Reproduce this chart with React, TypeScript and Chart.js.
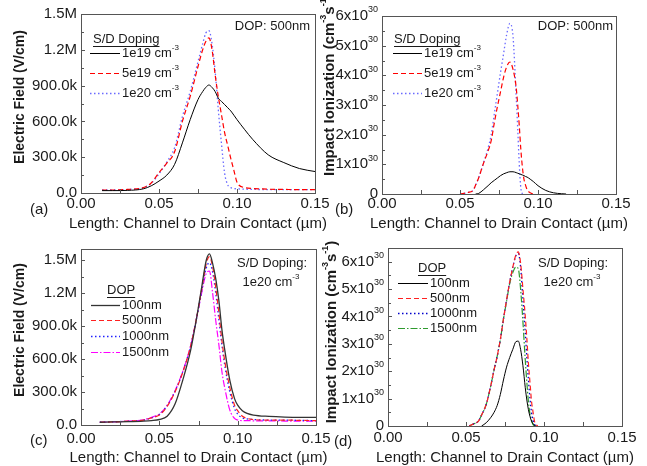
import { useEffect, useRef } from "react";
import { Chart, registerables } from "chart.js";
Chart.register(...registerables);

const FONT = '"Liberation Sans", Arial, sans-serif';
const W = 647;
const H = 466;

// ---------- shared axis ticks ----------
const X_TICKS = [0, 0.05, 0.1, 0.15];
const X_TICK_LABELS = ["0.00", "0.05", "0.10", "0.15"];
const X_MINOR = [0.025, 0.075, 0.125];
const FIELD_TICKS = [0, 300000, 600000, 900000, 1200000, 1500000];
const FIELD_TICK_LABELS = ["0.0", "300.0k", "600.0k", "900.0k", "1.2M", "1.5M"];
const II_TICKS = [0, 1, 2, 3, 4, 5, 6]; // units of 1e30 cm^-3 s^-1
const X_TITLE = "Length: Channel to Drain Contact (\u00b5m)";

// ---------- panel (a): electric field vs S/D doping (DOP 500nm) ----------
const aX = [0.0135, 0.02, 0.03, 0.04, 0.045, 0.05, 0.055, 0.06, 0.065, 0.07, 0.075, 0.078, 0.08, 0.082, 0.084, 0.086, 0.088, 0.09, 0.092, 0.094, 0.096, 0.098, 0.1, 0.105, 0.11, 0.12, 0.13, 0.14, 0.15];
const a1e19 = [20000, 20000, 22000, 35000, 60000, 100000, 150000, 240000, 420000, 615000, 783000, 850000, 885000, 905000, 885000, 850000, 795000, 768000, 742000, 715000, 688000, 652000, 615000, 530000, 450000, 320000, 255000, 205000, 180000];
const a5e19 = [25000, 25000, 30000, 45000, 84000, 170000, 250000, 345000, 600000, 810000, 1060000, 1200000, 1270000, 1300000, 1200000, 990000, 810000, 660000, 510000, 400000, 290000, 190000, 90000, 45000, 38000, 32000, 30000, 28000, 28000];
const a1e20 = [25000, 25000, 30000, 45000, 80000, 160000, 260000, 380000, 640000, 850000, 1100000, 1250000, 1340000, 1360000, 1250000, 1020000, 700000, 420000, 170000, 70000, 45000, 38000, 35000, 32000, 30000, 29000, 28000, 28000, 28000];

// ---------- panel (b): impact ionization vs S/D doping (DOP 500nm) ----------
const bX = [0.05, 0.055, 0.0585, 0.06, 0.062, 0.065, 0.068, 0.07, 0.072, 0.074, 0.076, 0.078, 0.08, 0.082, 0.084, 0.086, 0.087, 0.088, 0.089, 0.09, 0.091, 0.092, 0.093, 0.095, 0.097, 0.1, 0.105, 0.11, 0.115, 0.118];
const b1e19 = [null, null, null, 0, 0.02, 0.14, 0.28, 0.38, 0.46, 0.54, 0.62, 0.68, 0.72, 0.75, 0.75, 0.72, 0.7, 0.68, 0.66, 0.64, 0.62, 0.59, 0.57, 0.5, 0.42, 0.28, 0.12, 0.04, 0.01, 0];
const b5e19 = [0, 0.05, 0.13, 0.3, 0.55, 1.03, 1.45, 1.8, 2.4, 2.95, 3.45, 3.95, 4.3, 4.45, 4.2, 3.6, 3.0, 2.3, 1.5, 0.9, 0.5, 0.3, 0.15, 0.04, 0, null, null, null, null, null];
const b1e20 = [0, 0.05, 0.13, 0.3, 0.55, 1.03, 1.55, 2.0, 2.7, 3.4, 4.1, 4.75, 5.4, 5.75, 5.3, 3.3, 2.2, 1.0, 0.2, 0, null, null, null, null, null, null, null, null, null, null];

// ---------- panel (c): electric field vs DOP (S/D 1e20) ----------
const cX = [0.012, 0.02, 0.03, 0.04, 0.045, 0.05, 0.055, 0.06, 0.065, 0.07, 0.074, 0.077, 0.08, 0.082, 0.084, 0.086, 0.088, 0.09, 0.092, 0.095, 0.098, 0.1, 0.103, 0.106, 0.11, 0.12, 0.13, 0.14, 0.15];
const c100 = [25000, 28000, 30000, 35000, 40000, 50000, 80000, 190000, 410000, 680000, 990000, 1250000, 1500000, 1555000, 1470000, 1330000, 1130000, 860000, 660000, 406000, 240000, 180000, 130000, 105000, 90000, 78000, 72000, 70000, 70000];
const c500 = [25000, 28000, 35000, 45000, 65000, 90000, 170000, 300000, 480000, 720000, 990000, 1230000, 1470000, 1530000, 1440000, 1250000, 1020000, 760000, 560000, 340000, 180000, 130000, 80000, 60000, 50000, 45000, 45000, 42000, 40000];
const c1000 = [25000, 28000, 35000, 45000, 65000, 95000, 175000, 305000, 485000, 720000, 985000, 1215000, 1430000, 1475000, 1390000, 1200000, 960000, 720000, 520000, 300000, 150000, 100000, 65000, 55000, 50000, 45000, 45000, 42000, 40000];
const c1500 = [25000, 28000, 35000, 48000, 70000, 100000, 180000, 310000, 490000, 720000, 990000, 1200000, 1380000, 1400000, 1200000, 950000, 730000, 480000, 320000, 135000, 60000, 45000, 40000, 40000, 38000, 38000, 36000, 35000, 35000];

// ---------- panel (d): impact ionization vs DOP (S/D 1e20) ----------
const dX = [0.052, 0.055, 0.058, 0.06, 0.063, 0.066, 0.068, 0.07, 0.072, 0.074, 0.076, 0.078, 0.08, 0.082, 0.0835, 0.085, 0.0865, 0.088, 0.089, 0.09, 0.091, 0.092, 0.093, 0.094, 0.095, 0.096];
const d100 = [null, null, null, 0, 0.12, 0.32, 0.5, 0.75, 1.15, 1.68, 2.15, 2.5, 2.8, 3.08, 3.1, 2.8, 2.2, 1.4, 0.95, 0.6, 0.35, 0.18, 0.08, 0.02, 0, null];
const d500 = [0, 0.08, 0.18, 0.4, 0.8, 1.5, 2.05, 2.55, 3.15, 3.9, 4.6, 5.25, 5.8, 6.25, 6.36, 5.95, 5.0, 4.0, 3.2, 2.3, 1.6, 0.9, 0.5, 0.15, 0.05, 0];
const d1000 = [0, 0.08, 0.18, 0.4, 0.8, 1.5, 2.05, 2.55, 3.15, 3.9, 4.6, 5.25, 5.8, 6.22, 6.3, 5.8, 4.6, 3.4, 2.5, 1.7, 1.0, 0.5, 0.2, 0.05, 0, null];
const d1500 = [0, 0.08, 0.18, 0.4, 0.8, 1.5, 2.05, 2.55, 3.15, 3.9, 4.55, 5.2, 5.6, 5.8, 5.75, 5.0, 3.8, 2.4, 1.6, 0.9, 0.45, 0.2, 0.05, 0, null, null];

type Part = [string, boolean?];

interface Series {
  label: Part[];
  x: number[];
  y: (number | null)[];
  color: string;
  dash: number[];
  width: number;
}

interface PanelSpec {
  area: [number, number, number, number];
  yMax: number;
  yTicks: number[];
  yLabel: (i: number) => Part[];
  yLabelX: number;
  yTitle: Part[];
  yTitleSize: number;
  yTitleX: number;
  yTitleY: number;
  yTitleAlign: "left" | "center";
  xTitleY: number;
  xLabelY: number;
  tag: string;
  tagX: number;
  tagY: number;
  legendTitle: string;
  legendTitleX: number;
  legendTitleY: number;
  legendLine: [number, number];
  legendTextX: number;
  legendY: number[];
  notes: { parts: Part[]; x: number; y: number; align: "left" | "right" | "center" }[];
  series: Series[];
}

const SOLID: number[] = [];
const DASH = [5, 3];
const DOT = [1.5, 2.5];
const DASHDOT = [7, 2, 1.5, 2];

const fieldLabel = (i: number): Part[] => [[FIELD_TICK_LABELS[i]]];
const iiLabel = (i: number): Part[] => (II_TICKS[i] === 0 ? [["0"]] : [[`${II_TICKS[i]}x10`], ["30", true]]);
const IITITLE: Part[] = [["Impact Ionization (cm"], ["-3", true], ["s"], ["-1", true], [")"]];

const PANELS: PanelSpec[] = [
  {
    area: [81, 14, 315, 193],
    yMax: 1500000,
    yTicks: FIELD_TICKS,
    yLabel: fieldLabel,
    yLabelX: 77,
    yTitle: [["Electric Field (V/cm)"]],
    yTitleSize: 14,
    yTitleX: 20,
    yTitleY: 97,
    yTitleAlign: "center",
    xTitleY: 224,
    xLabelY: 204,
    tag: "(a)",
    tagX: 30,
    tagY: 210,
    legendTitle: "S/D Doping",
    legendTitleX: 93,
    legendTitleY: 39,
    legendLine: [90, 120],
    legendTextX: 122,
    legendY: [53, 73, 93],
    notes: [{ parts: [["DOP: 500nm"]], x: 310, y: 26, align: "right" }],
    series: [
      { label: [["1e19 cm"], ["-3", true]], x: aX, y: a1e19, color: "#000000", dash: SOLID, width: 1 },
      { label: [["5e19 cm"], ["-3", true]], x: aX, y: a5e19, color: "#ff0000", dash: DASH, width: 1.2 },
      { label: [["1e20 cm"], ["-3", true]], x: aX, y: a1e20, color: "#6a6aff", dash: DOT, width: 1.3 },
    ],
  },
  {
    area: [382, 16, 616, 194],
    yMax: 6,
    yTicks: II_TICKS,
    yLabel: iiLabel,
    yLabelX: 378,
    yTitle: IITITLE,
    yTitleSize: 15,
    yTitleX: 330,
    yTitleY: 176,
    yTitleAlign: "left",
    xTitleY: 224,
    xLabelY: 204,
    tag: "(b)",
    tagX: 335,
    tagY: 210,
    legendTitle: "S/D Doping",
    legendTitleX: 394,
    legendTitleY: 39,
    legendLine: [393, 422],
    legendTextX: 424,
    legendY: [53, 73, 93],
    notes: [{ parts: [["DOP: 500nm"]], x: 613, y: 26, align: "right" }],
    series: [
      { label: [["1e19 cm"], ["-3", true]], x: bX, y: b1e19, color: "#000000", dash: SOLID, width: 1 },
      { label: [["5e19 cm"], ["-3", true]], x: bX, y: b5e19, color: "#ff0000", dash: DASH, width: 1.2 },
      { label: [["1e20 cm"], ["-3", true]], x: bX, y: b1e20, color: "#6a6aff", dash: DOT, width: 1.3 },
    ],
  },
  {
    area: [81, 249, 316, 425],
    yMax: 1600000,
    yTicks: FIELD_TICKS,
    yLabel: fieldLabel,
    yLabelX: 77,
    yTitle: [["Electric Field (V/cm)"]],
    yTitleSize: 14,
    yTitleX: 20,
    yTitleY: 330,
    yTitleAlign: "center",
    xTitleY: 458,
    xLabelY: 439,
    tag: "(c)",
    tagX: 30,
    tagY: 441,
    legendTitle: "DOP",
    legendTitleX: 107,
    legendTitleY: 290,
    legendLine: [91, 120],
    legendTextX: 122,
    legendY: [305, 320, 336, 352],
    notes: [
      { parts: [["S/D Doping:"]], x: 272, y: 263, align: "center" },
      { parts: [["1e20 cm"], ["-3", true]], x: 271, y: 282, align: "center" },
    ],
    series: [
      { label: [["100nm"]], x: cX, y: c100, color: "#333333", dash: SOLID, width: 1.3 },
      { label: [["500nm"]], x: cX, y: c500, color: "#ff2020", dash: DASH, width: 1.2 },
      { label: [["1000nm"]], x: cX, y: c1000, color: "#2020ff", dash: DOT, width: 1.3 },
      { label: [["1500nm"]], x: cX, y: c1500, color: "#ff00ff", dash: DASHDOT, width: 1.2 },
    ],
  },
  {
    area: [388, 248, 622, 426],
    yMax: 6.5,
    yTicks: II_TICKS,
    yLabel: iiLabel,
    yLabelX: 384,
    yTitle: IITITLE,
    yTitleSize: 15,
    yTitleX: 332,
    yTitleY: 332,
    yTitleAlign: "center",
    xTitleY: 458,
    xLabelY: 438,
    tag: "(d)",
    tagX: 334,
    tagY: 442,
    legendTitle: "DOP",
    legendTitleX: 418,
    legendTitleY: 268,
    legendLine: [398, 428],
    legendTextX: 430,
    legendY: [283, 298, 313, 328],
    notes: [
      { parts: [["S/D Doping:"]], x: 573, y: 263, align: "center" },
      { parts: [["1e20 cm"], ["-3", true]], x: 572, y: 282, align: "center" },
    ],
    series: [
      { label: [["100nm"]], x: dX, y: d100, color: "#000000", dash: SOLID, width: 1 },
      { label: [["500nm"]], x: dX, y: d500, color: "#ff2020", dash: DASH, width: 1.2 },
      { label: [["1000nm"]], x: dX, y: d1000, color: "#0000cc", dash: DOT, width: 1.3 },
      { label: [["1500nm"]], x: dX, y: d1500, color: "#2e9a2e", dash: DASHDOT, width: 1.2 },
    ],
  },
];

function drawRich(
  ctx: CanvasRenderingContext2D,
  parts: Part[],
  x: number,
  y: number,
  size: number,
  align: "left" | "right" | "center",
  weight = ""
): number {
  const main = `${weight} ${size}px ${FONT}`;
  const sub = `${weight} ${Math.round(size * 0.62)}px ${FONT}`;
  let w = 0;
  for (const [t, sup] of parts) {
    ctx.font = sup ? sub : main;
    w += ctx.measureText(t).width;
  }
  let cx = align === "left" ? x : align === "right" ? x - w : x - w / 2;
  ctx.textAlign = "left";
  ctx.textBaseline = "middle";
  for (const [t, sup] of parts) {
    ctx.font = sup ? sub : main;
    ctx.fillText(t, cx, sup ? y - size * 0.42 : y);
    cx += ctx.measureText(t).width;
  }
  return w;
}

function panelPlugin(spec: PanelSpec) {
  return {
    id: "panelDecor",
    afterDraw(chart: any) {
      const ctx: CanvasRenderingContext2D = chart.ctx;
      const xs = chart.scales.x;
      const ys = chart.scales.y;
      const { left, top, right, bottom } = chart.chartArea;
      ctx.save();
      ctx.setLineDash([]);
      ctx.strokeStyle = "#555555";
      ctx.lineWidth = 1;
      ctx.strokeRect(Math.round(left) + 0.5, Math.round(top) + 0.5, Math.round(right - left), Math.round(bottom - top));
      // inward ticks
      ctx.beginPath();
      for (const v of X_TICKS.concat(X_MINOR)) {
        const px = Math.round(xs.getPixelForValue(v)) + 0.5;
        ctx.moveTo(px, Math.round(bottom));
        ctx.lineTo(px, Math.round(bottom) - 4);
      }
      spec.yTicks.forEach((v, i) => {
        const py = Math.round(ys.getPixelForValue(v)) + 0.5;
        ctx.moveTo(Math.round(left), py);
        ctx.lineTo(Math.round(left) + 4, py);
        if (i < spec.yTicks.length - 1) {
          const pm = Math.round(ys.getPixelForValue((v + spec.yTicks[i + 1]) / 2)) + 0.5;
          ctx.moveTo(Math.round(left), pm);
          ctx.lineTo(Math.round(left) + 3, pm);
        }
      });
      ctx.stroke();

      ctx.fillStyle = "#1a1a1a";
      X_TICKS.forEach((v, i) => {
        drawRich(ctx, [[X_TICK_LABELS[i]]], xs.getPixelForValue(v), spec.xLabelY, 15, "center");
      });
      spec.yTicks.forEach((v, i) => {
        drawRich(ctx, spec.yLabel(i), spec.yLabelX, ys.getPixelForValue(v), 15, "right");
      });
      drawRich(ctx, [[X_TITLE]], (left + right) / 2, spec.xTitleY, 15, "center");
      ctx.save();
      ctx.translate(spec.yTitleX, spec.yTitleY);
      ctx.rotate(-Math.PI / 2);
      drawRich(ctx, spec.yTitle, 0, 0, spec.yTitleSize, spec.yTitleAlign, "bold");
      ctx.restore();
      drawRich(ctx, [[spec.tag]], spec.tagX, spec.tagY, 15, "left");
      // legend
      const tw = drawRich(ctx, [[spec.legendTitle]], spec.legendTitleX, spec.legendTitleY, 13, "left");
      ctx.strokeStyle = "#1a1a1a";
      ctx.lineWidth = 1;
      ctx.beginPath();
      ctx.moveTo(spec.legendTitleX, Math.round(spec.legendTitleY + 7) + 0.5);
      ctx.lineTo(spec.legendTitleX + tw, Math.round(spec.legendTitleY + 7) + 0.5);
      ctx.stroke();
      spec.series.forEach((s, i) => {
        const y = Math.round(spec.legendY[i]) + 0.5;
        ctx.strokeStyle = s.color;
        ctx.lineWidth = s.width;
        ctx.setLineDash(s.dash);
        ctx.beginPath();
        ctx.moveTo(spec.legendLine[0], y);
        ctx.lineTo(spec.legendLine[1], y);
        ctx.stroke();
        ctx.setLineDash([]);
        drawRich(ctx, s.label, spec.legendTextX, spec.legendY[i], 13, "left");
      });
      for (const n of spec.notes) drawRich(ctx, n.parts, n.x, n.y, 13, n.align);
      ctx.restore();
    },
  };
}

function makeConfig(spec: PanelSpec): any {
  const [l, t, r, b] = spec.area;
  return {
    type: "line",
    data: {
      datasets: spec.series.map((s) => ({
        label: s.label.map((p) => p[0]).join(""),
        data: s.x.map((x, i) => ({ x, y: s.y[i] })),
        borderColor: s.color,
        borderDash: s.dash,
        borderWidth: s.width,
        pointRadius: 0,
        fill: false,
        cubicInterpolationMode: "monotone",
        spanGaps: false,
      })),
    },
    options: {
      responsive: false,
      animation: false,
      events: [],
      layout: { padding: { left: l, top: t, right: W - r, bottom: H - b } },
      scales: {
        x: { type: "linear", min: 0, max: 0.15, display: false },
        y: { type: "linear", min: 0, max: spec.yMax, display: false },
      },
      plugins: { legend: { display: false }, tooltip: { enabled: false } },
    },
    plugins: [panelPlugin(spec)],
  };
}

export default function App() {
  const refs = useRef<(HTMLCanvasElement | null)[]>([]);
  useEffect(() => {
    const charts = PANELS.map((spec, i) => new Chart(refs.current[i] as HTMLCanvasElement, makeConfig(spec)));
    return () => charts.forEach((c) => c.destroy());
  }, []);
  return (
    <div style={{ position: "absolute", left: 0, top: 0, width: W, height: H, background: "#fff", overflow: "hidden" }}>
      {PANELS.map((_, i) => (
        <canvas
          key={i}
          ref={(el) => {
            refs.current[i] = el;
          }}
          width={W}
          height={H}
          style={{ position: "absolute", left: 0, top: 0, width: W, height: H }}
        />
      ))}
    </div>
  );
}
